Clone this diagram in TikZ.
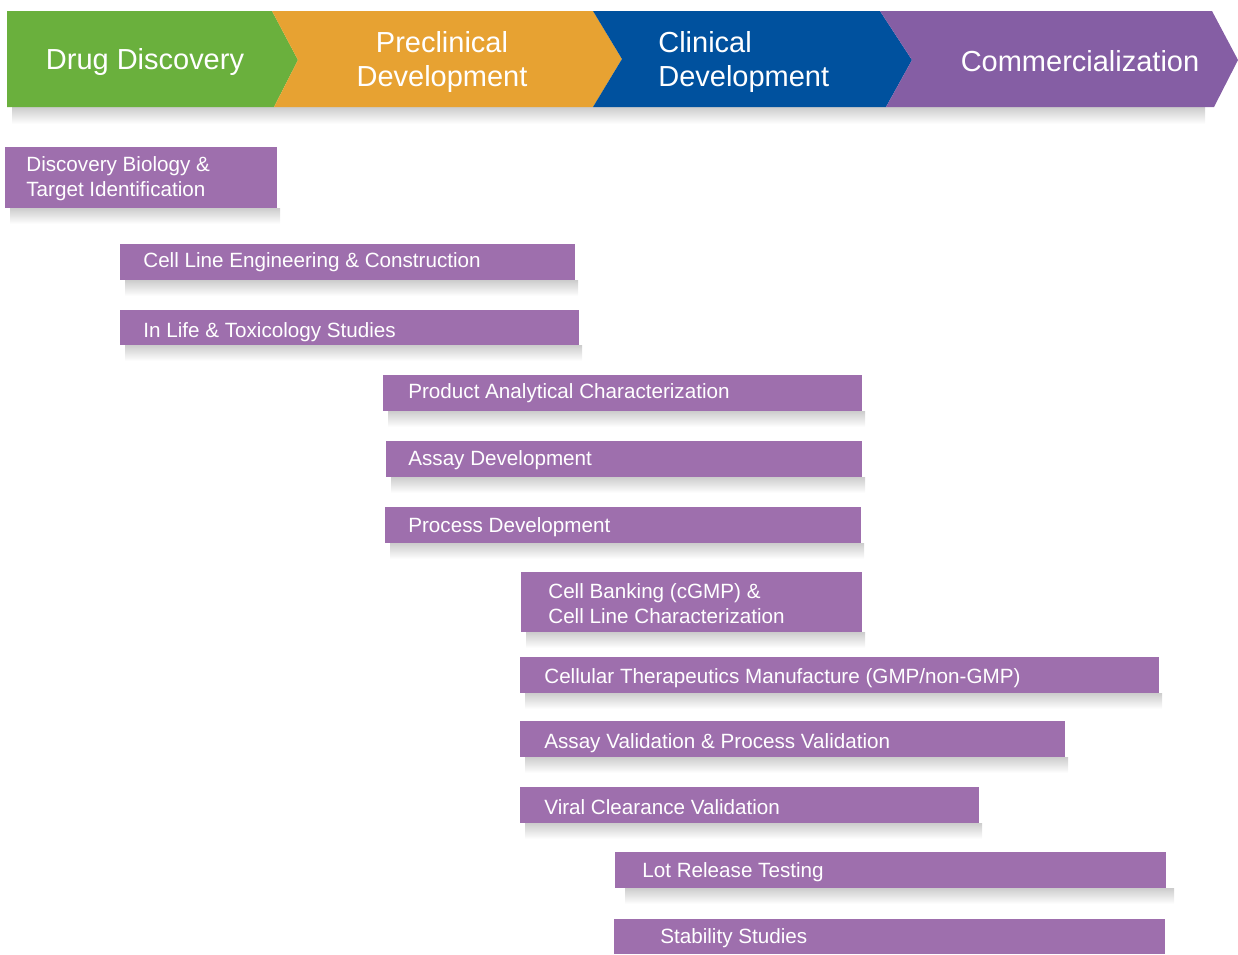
\documentclass[tikz,border=0pt]{standalone}
\usepackage{fontspec}
\setmainfont{Liberation Sans}
\usepackage{xcolor}
\usepackage{tikz}

\definecolor{drugGreen}{RGB}{106,176,61}
\definecolor{preOrange}{RGB}{231,162,50}
\definecolor{clinBlue}{RGB}{0,81,158}
\definecolor{commPurple}{RGB}{133,94,164}
\definecolor{barPurple}{RGB}{158,111,173}

\begin{document}
\begin{tikzpicture}[x=0.02cm,y=-0.02cm,
	phase/.style={white,inner sep=0pt,align=center,font=\fontsize{16.5}{19.3}\selectfont},
	task/.style={anchor=west,white,inner sep=0pt,align=left,font=\fontsize{11.75}{14.2}\selectfont},
	bar/.style={fill=barPurple},
	barshadow/.style={top color=black!20,bottom color=white}]
	\useasboundingbox (0,0) rectangle (1238,954);

	% phases
	\shade[barshadow] (12,107) rectangle (1205,124);
	\fill[drugGreen] (7,11) -- (272,11) -- (298,60) -- (274,107) -- (7,107) -- cycle;
	\fill[preOrange] (272,11) -- (593,11) -- (622,59) -- (593,107) -- (274,107) -- (298,60) -- cycle;
	\fill[clinBlue] (593,11) -- (880,11) -- (912,60) -- (886,107) -- (593,107) -- (622,59) -- cycle;
	\fill[commPurple] (880,11) -- (1212,11) -- (1238,60) -- (1214,107) -- (886,107) -- (912,60) -- cycle;
	\node[phase] (discovery) at (145,62) {Drug Discovery};
	\node[phase] (preclinical) at (442,62) {Preclinical\\Development};
	\node[phase,anchor=west,align=left] (clinical) at (658,62) {Clinical\\Development};
	\node[phase] (commercial) at (1080,61) {Commercialization};

	% tasks
	\shade[barshadow] (10,208) rectangle (280,224);
	\fill[bar] (5,147) rectangle (277,208);
	\node[task] (target) at (26,179) {Discovery Biology \&\\Target Identification};

	\shade[barshadow] (125,280) rectangle (578,296);
	\fill[bar] (120,244) rectangle (575,280);
	\node[task] (cellline) at (143,262) {Cell Line Engineering \& Construction};

	\shade[barshadow] (125,345) rectangle (582,361);
	\fill[bar] (120,310) rectangle (579,345);
	\node[task] (inlife) at (143,332) {In Life \& Toxicology Studies};

	\shade[barshadow] (388,411) rectangle (865,427);
	\fill[bar] (383,375) rectangle (862,411);
	\node[task] (analytical) at (408,393) {Product Analytical Characterization};

	\shade[barshadow] (391,477) rectangle (865,493);
	\fill[bar] (386,441) rectangle (862,477);
	\node[task] (assaydev) at (408,460) {Assay Development};

	\shade[barshadow] (390,543) rectangle (864,559);
	\fill[bar] (385,507) rectangle (861,543);
	\node[task] (processdev) at (408,527) {Process Development};

	\shade[barshadow] (526,632) rectangle (865,648);
	\fill[bar] (521,572) rectangle (862,632);
	\node[task] (banking) at (548,604) {Cell Banking (cGMP) \&\\Cell Line Characterization};

	\shade[barshadow] (525,693) rectangle (1162,709);
	\fill[bar] (520,657) rectangle (1159,693);
	\node[task] (manufacture) at (544,678) {Cellular Therapeutics Manufacture (GMP/non-GMP)};

	\shade[barshadow] (525,757) rectangle (1068,773);
	\fill[bar] (520,721) rectangle (1065,757);
	\node[task] (validation) at (544,743) {Assay Validation \& Process Validation};

	\shade[barshadow] (525,823) rectangle (982,839);
	\fill[bar] (520,787) rectangle (979,823);
	\node[task] (viral) at (544,807) {Viral Clearance Validation};

	\shade[barshadow] (625,888) rectangle (1174,904);
	\fill[bar] (615,852) rectangle (1166,888);
	\node[task] (lotrelease) at (642,872) {Lot Release Testing};

	\fill[bar] (614,919) rectangle (1165,954);
	\node[task] (stability) at (660,938) {Stability Studies};
\end{tikzpicture}
\end{document}
